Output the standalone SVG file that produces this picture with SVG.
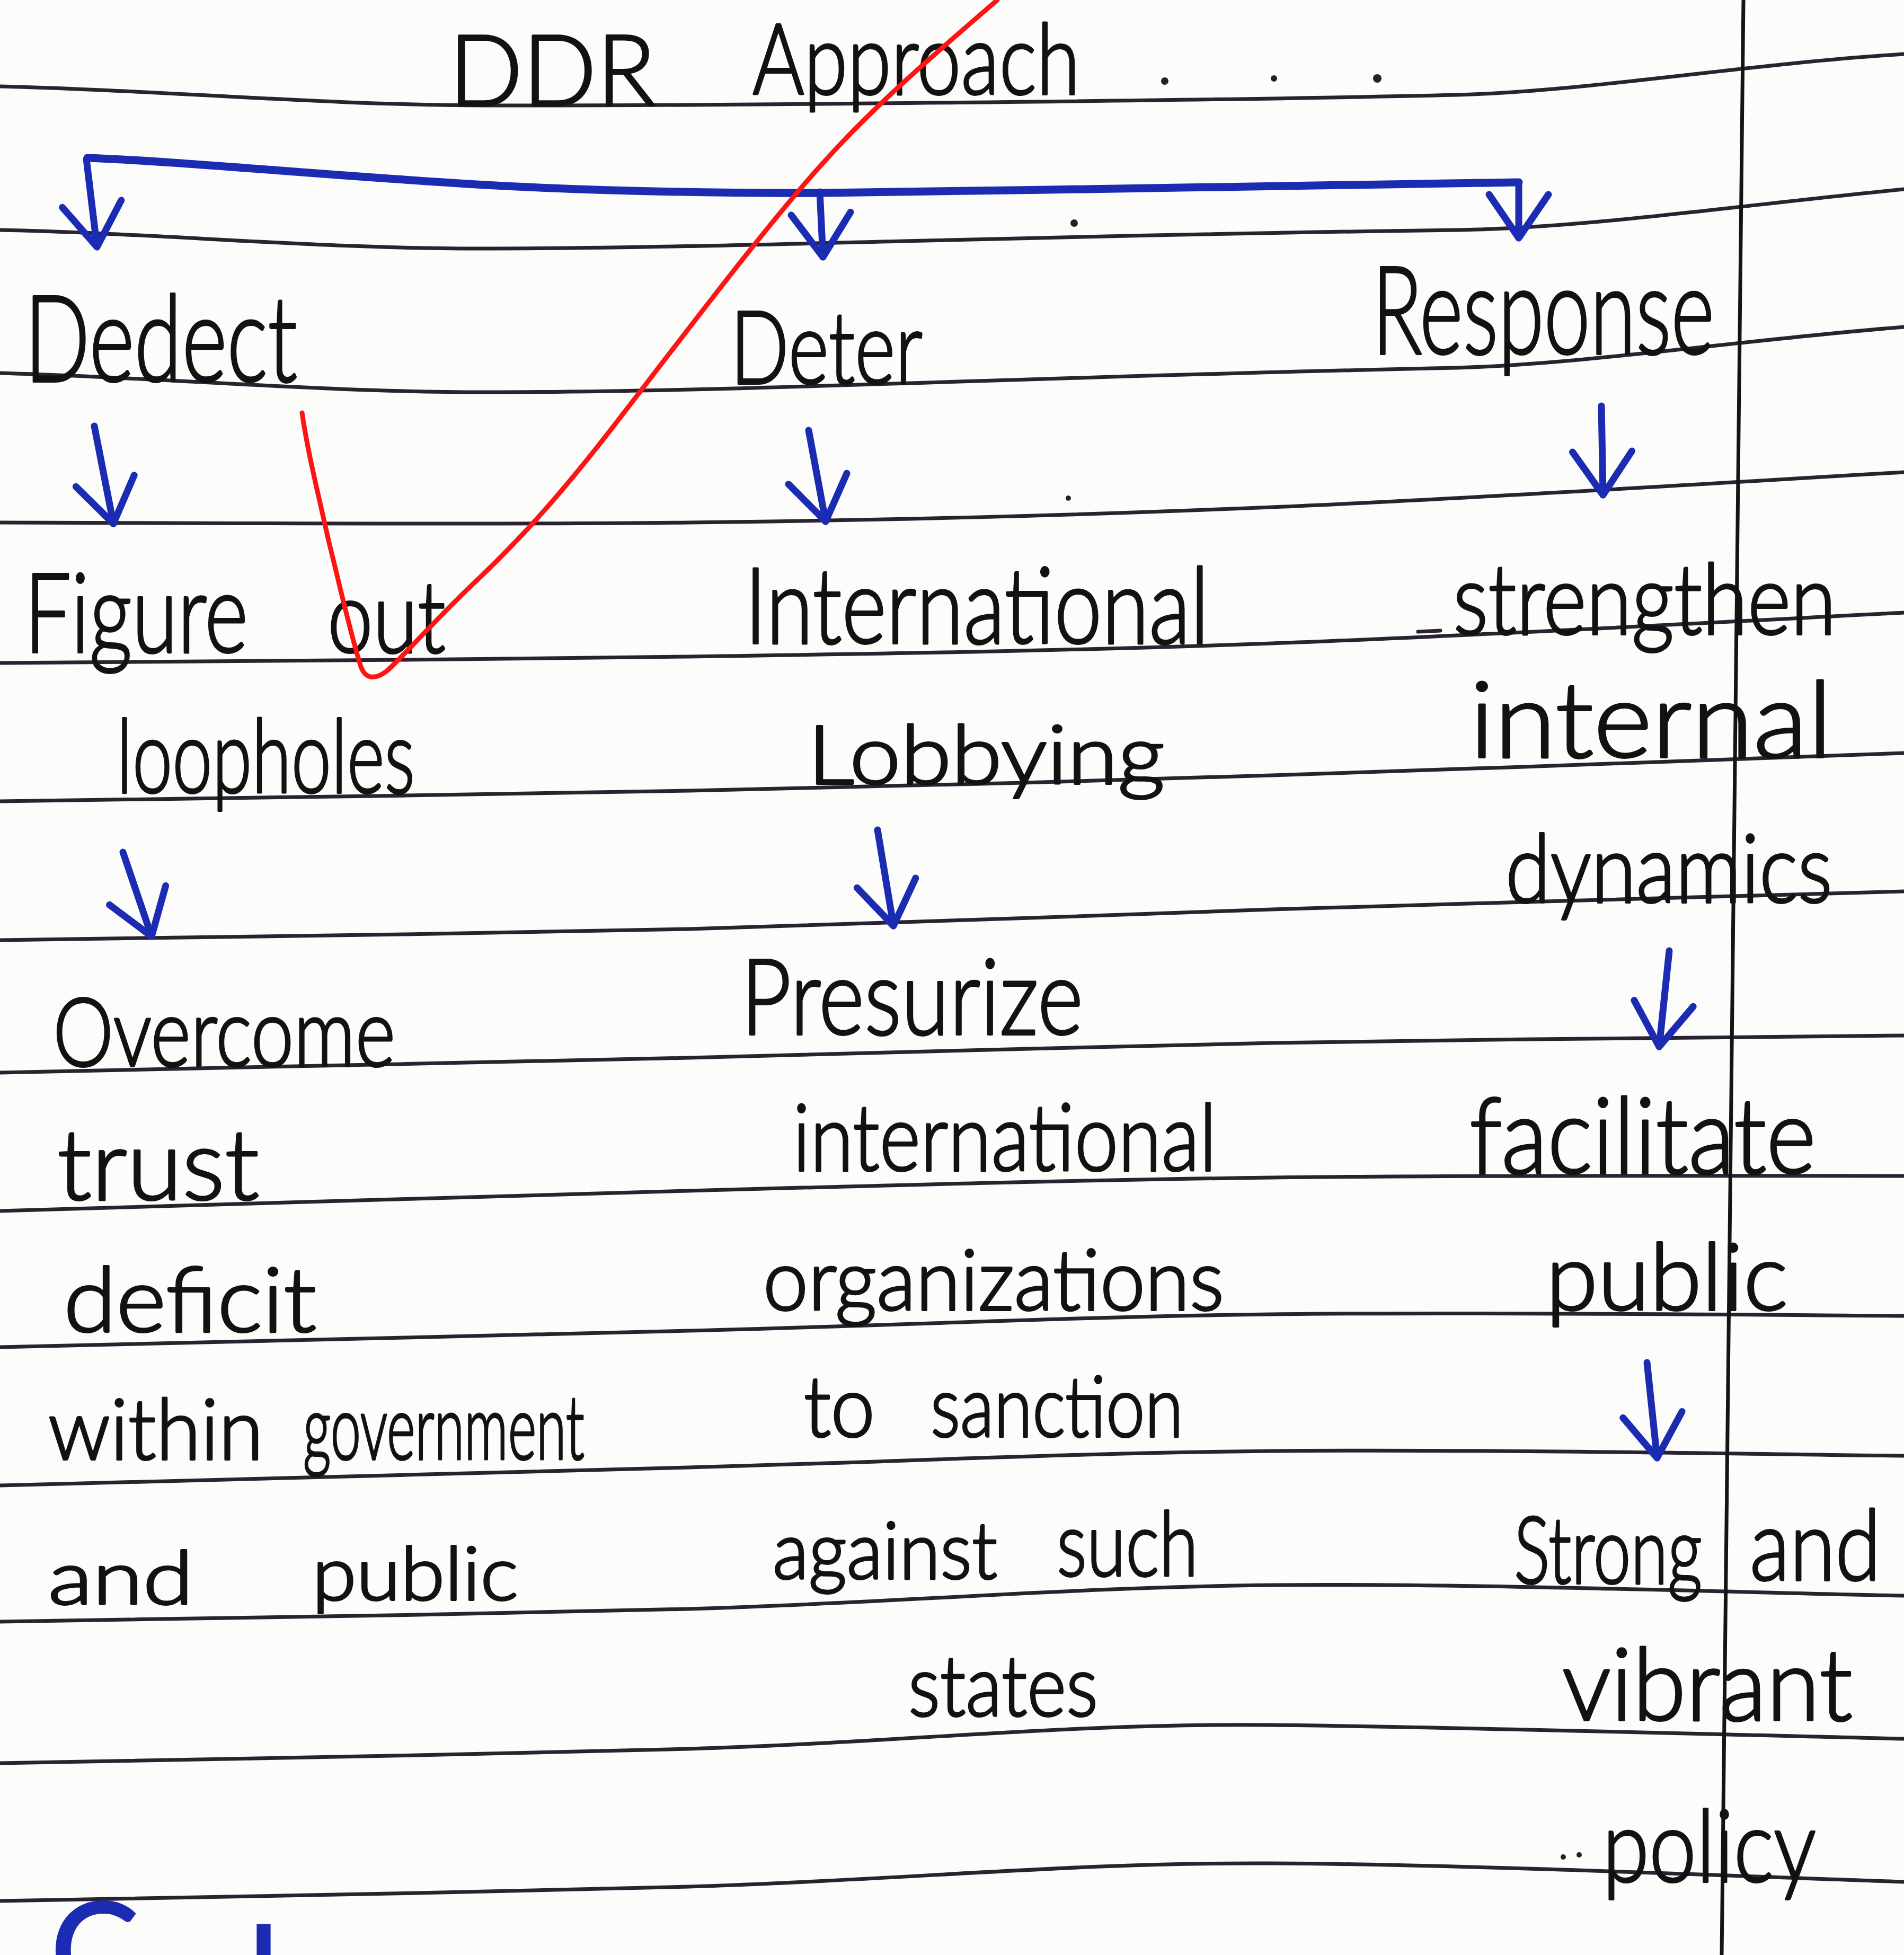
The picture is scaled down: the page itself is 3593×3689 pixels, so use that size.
<svg xmlns="http://www.w3.org/2000/svg" width="3593" height="3689" viewBox="0 0 3593 3689">
<style>
.paper{fill:#fcfcfb}
.rule{fill:none;stroke:#2a2230;stroke-width:7;stroke-linecap:round}
.margin{fill:none;stroke:#141414;stroke-width:7}
.hw{font-family:Lato,"Liberation Sans",sans-serif;font-weight:300;fill:#121212;stroke:#121212;stroke-width:4;stroke-linejoin:round}
.ink{fill:none;stroke:#1b2cb3;stroke-width:15;stroke-linecap:round;stroke-linejoin:round}
.arrow{fill:none;stroke:#1b2cb3;stroke-width:13;stroke-linecap:round;marker-end:url(#vhead)}
.blue{font-family:Lato,"Liberation Sans",sans-serif;font-weight:400;fill:#1b2cb3;stroke:#1b2cb3;stroke-width:4}
.red{fill:none;stroke:#ff1414;stroke-width:9;stroke-linecap:round;stroke-linejoin:round}
.dot{fill:#222}
</style>
<defs>
<marker id="vhead" viewBox="-100 -70 110 140" markerWidth="110" markerHeight="140" refX="0" refY="0" orient="auto" markerUnits="userSpaceOnUse" overflow="visible">
<path d="M-82,-56 L0,0 L-82,56" fill="none" stroke="#1b2cb3" stroke-width="13" stroke-linecap="round" stroke-linejoin="round"/>
</marker>
</defs>
<rect class="paper" x="0" y="0" width="3593" height="3689"/>
<g id="paper-lines">
<path class="rule" d="M0,163 C300,170 600,198 917,199 C1300,200 2300,190 2750,179 C3000,172 3300,120 3593,102"/>
<path class="rule" d="M0,434 C300,440 600,470 917,469 C1400,468 1900,445 2750,434 C3000,430 3300,385 3593,357"/>
<path class="rule" d="M0,704 C300,712 600,740 917,740 C1400,740 1900,712 2750,694 C3000,686 3300,640 3593,617"/>
<path class="rule" d="M0,986 C217,986 900,991 1300,986 C1700,981 2018,973 2400,957 C2782,941 3394,902 3593,891"/>
<path class="rule" d="M0,1251 C217,1249 900,1245 1300,1239 C1700,1233 2018,1228 2400,1214 C2782,1200 3394,1166 3593,1156"/>
<path class="rule" d="M0,1512 C217,1509 900,1500 1300,1492 C1700,1484 2018,1475 2400,1463 C2782,1451 3394,1428 3593,1421"/>
<path class="rule" d="M0,1774 C217,1770 900,1763 1300,1753 C1700,1743 2018,1728 2400,1716 C2782,1704 3394,1688 3593,1682"/>
<path class="rule" d="M0,2024 C217,2019 900,2005 1300,1996 C1700,1987 2018,1975 2400,1968 C2782,1961 3394,1956 3593,1954"/>
<path class="rule" d="M0,2285 C217,2279 900,2258 1300,2247 C1700,2236 2018,2227 2400,2222 C2782,2217 3394,2219 3593,2219"/>
<path class="rule" d="M0,2542 C217,2537 900,2521 1300,2511 C1700,2501 2018,2485 2400,2480 C2782,2475 3394,2482 3593,2483"/>
<path class="rule" d="M0,2803 C217,2797 900,2780 1300,2769 C1700,2758 2018,2742 2400,2738 C2782,2734 3394,2745 3593,2747"/>
<path class="rule" d="M0,3060 C217,3056 900,3047 1300,3036 C1700,3024 2018,2995 2400,2991 C2782,2987 3394,3008 3593,3011"/>
<path class="rule" d="M0,3327 C217,3322 900,3312 1300,3300 C1700,3288 2018,3251 2400,3255 C2782,3259 3394,3277 3593,3281"/>
<path class="rule" d="M0,3587 C217,3582 900,3572 1300,3560 C1700,3548 2018,3514 2400,3516 C2782,3518 3394,3545 3593,3551"/>
<path class="margin" d="M3290,0 L3249,3689"/>
<circle class="dot" cx="2198" cy="153" r="7"/>
<circle class="dot" cx="2404" cy="148" r="6"/>
<circle class="dot" cx="2599" cy="148" r="8"/>
<circle class="dot" cx="2027" cy="421" r="7"/>
<circle class="dot" cx="2016" cy="940" r="5"/>
<path class="rule" d="M2676,1192 L2718,1190" stroke-width="6"/>
<circle class="dot" cx="2950" cy="3504" r="5"/>
<circle class="dot" cx="2980" cy="3500" r="5"/>
</g>
<g id="title">
<text class="hw" x="847" y="199" font-size="185" textLength="390" lengthAdjust="spacingAndGlyphs">DDR</text>
<text class="hw" x="1420" y="178" font-size="185" textLength="618" lengthAdjust="spacingAndGlyphs">Approach</text>
</g>
<g id="detect">
<text class="hw" x="46" y="720" font-size="228" textLength="515" lengthAdjust="spacingAndGlyphs">Dedect</text>
</g>
<g id="deter">
<text class="hw" x="1378" y="724" font-size="192" textLength="363" lengthAdjust="spacingAndGlyphs">Deter</text>
</g>
<g id="response">
<text class="hw" x="2589" y="668" font-size="232" textLength="646" lengthAdjust="spacingAndGlyphs">Response</text>
</g>
<g id="loopholes">
<text class="hw" x="46" y="1231" font-size="210" textLength="422" lengthAdjust="spacingAndGlyphs">Figure</text>
<text class="hw" x="618" y="1231" font-size="190" textLength="223" lengthAdjust="spacingAndGlyphs">out</text>
<text class="hw" x="220" y="1496" font-size="193" textLength="563" lengthAdjust="spacingAndGlyphs">loopholes</text>
</g>
<g id="trust-deficit">
<text class="hw" x="100" y="2012" font-size="180" textLength="646" lengthAdjust="spacingAndGlyphs">Overcome</text>
<text class="hw" x="108" y="2264" font-size="185" textLength="381" lengthAdjust="spacingAndGlyphs">trust</text>
<text class="hw" x="120" y="2513" font-size="170" textLength="477" lengthAdjust="spacingAndGlyphs">deficit</text>
<text class="hw" x="91" y="2754" font-size="160" textLength="406" lengthAdjust="spacingAndGlyphs">within</text>
<text class="hw" x="572" y="2754" font-size="170" textLength="531" lengthAdjust="spacingAndGlyphs">government</text>
<text class="hw" x="91" y="3027" font-size="140" textLength="274" lengthAdjust="spacingAndGlyphs">and</text>
<text class="hw" x="589" y="3019" font-size="140" textLength="389" lengthAdjust="spacingAndGlyphs">public</text>
</g>
<g id="lobbying">
<text class="hw" x="1405" y="1214" font-size="200" textLength="877" lengthAdjust="spacingAndGlyphs">International</text>
<text class="hw" x="1524" y="1479" font-size="155" textLength="674" lengthAdjust="spacingAndGlyphs">Lobbying</text>
</g>
<g id="pressurize">
<text class="hw" x="1398" y="1952" font-size="200" textLength="646" lengthAdjust="spacingAndGlyphs">Presurize</text>
<text class="hw" x="1496" y="2209" font-size="175" textLength="800" lengthAdjust="spacingAndGlyphs">international</text>
<text class="hw" x="1440" y="2472" font-size="160" textLength="870" lengthAdjust="spacingAndGlyphs">organizations</text>
<text class="hw" x="1517" y="2711" font-size="160" textLength="134" lengthAdjust="spacingAndGlyphs">to</text>
<text class="hw" x="1756" y="2711" font-size="160" textLength="477" lengthAdjust="spacingAndGlyphs">sanction</text>
<text class="hw" x="1458" y="2979" font-size="150" textLength="424" lengthAdjust="spacingAndGlyphs">against</text>
<text class="hw" x="1994" y="2974" font-size="170" textLength="267" lengthAdjust="spacingAndGlyphs">such</text>
<text class="hw" x="1714" y="3238" font-size="160" textLength="358" lengthAdjust="spacingAndGlyphs">states</text>
</g>
<g id="internal-dynamics">
<text class="hw" x="2742" y="1197" font-size="185" textLength="723" lengthAdjust="spacingAndGlyphs">strengthen</text>
<text class="hw" x="2773" y="1429" font-size="200" textLength="685" lengthAdjust="spacingAndGlyphs">internal</text>
<text class="hw" x="2841" y="1703" font-size="180" textLength="617" lengthAdjust="spacingAndGlyphs">dynamics</text>
</g>
<g id="facilitate-public">
<text class="hw" x="2773" y="2214" font-size="200" textLength="654" lengthAdjust="spacingAndGlyphs">facilitate</text>
<text class="hw" x="2917" y="2472" font-size="175" textLength="457" lengthAdjust="spacingAndGlyphs">public</text>
</g>
<g id="policy">
<text class="hw" x="2857" y="2988" font-size="175" textLength="355" lengthAdjust="spacingAndGlyphs">Strong</text>
<text class="hw" x="3302" y="2982" font-size="185" textLength="247" lengthAdjust="spacingAndGlyphs">and</text>
<text class="hw" x="2948" y="3246" font-size="190" textLength="548" lengthAdjust="spacingAndGlyphs">vibrant</text>
<text class="hw" x="3024" y="3551" font-size="190" textLength="403" lengthAdjust="spacingAndGlyphs">policy</text>
</g>
<g id="next-heading">
<text class="blue" font-size="250"><tspan x="95" y="3770">C</tspan><tspan x="468" y="3817">l</tspan></text>
</g>
<g id="connectors">
<path class="ink" d="M165,298 C350,305 600,330 916,349 C1150,362 1400,365 1557,364 C2000,358 2500,350 2866,344"/>
<path class="arrow" d="M163,300 L183,466"/>
<path class="arrow" d="M1547,362 L1553,485"/>
<path class="arrow" d="M2866,344 L2866,449"/>
<path class="arrow" d="M178,804 L214,988"/>
<path class="arrow" d="M1526,812 L1558,984"/>
<path class="arrow" d="M3022,766 L3025,934"/>
<path class="arrow" d="M232,1608 L286,1767"/>
<path class="arrow" d="M1656,1566 L1686,1747"/>
<path class="arrow" d="M3150,1794 L3131,1975"/>
<path class="arrow" d="M3108,2571 L3127,2751"/>
</g>
<g id="check-mark">
<path class="red" d="M1882,0 C1760,105 1650,200 1560,300 C1450,420 1300,620 1161,800 C1080,905 1000,1000 900,1095 C830,1160 760,1240 730,1266 C705,1285 688,1280 680,1255 C660,1190 640,1100 620,1020 C600,930 580,850 570,779"/>
</g>
</svg>
